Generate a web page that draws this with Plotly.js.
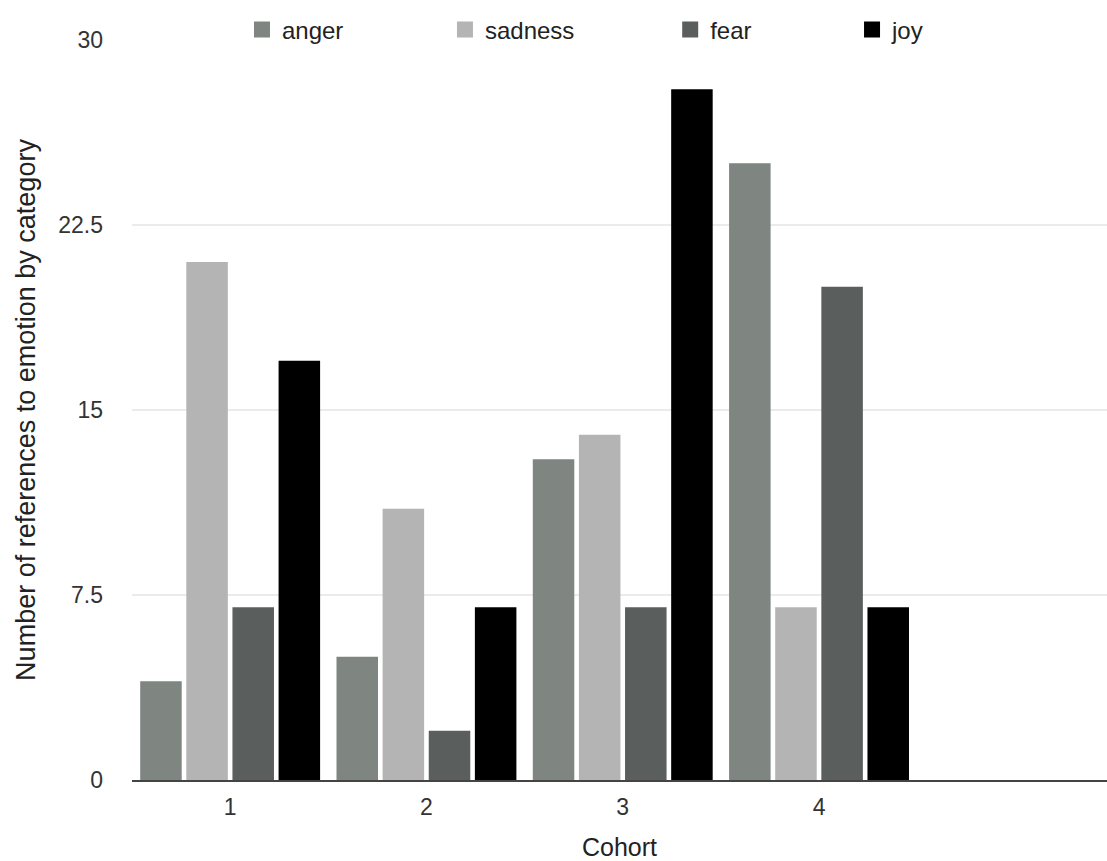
<!DOCTYPE html>
<html><head><meta charset="utf-8">
<script src="https://cdn.plot.ly/plotly-3.0.1.min.js"></script>
<style>html,body{margin:0;padding:0;background:#fff}#chart{width:1107px;height:861px}</style>
</head><body><div id="chart"></div>
<script>
const cohorts = [1, 2, 3, 4];
const seriesNames = ['anger', 'sadness', 'fear', 'joy'];
const anger = [4, 5, 13, 25];
const sadness = [21, 11, 14, 7];
const fear = [7, 2, 7, 20];
const joy = [17, 7, 28, 7];
const yTicks = [0, 7.5, 15, 22.5, 30];
const yTickText = ['0', '7.5', '15', '22.5', '30'];

const values = [anger, sadness, fear, joy];
const colors = ['#7f8581', '#b4b4b4', '#5a5e5c', '#000000'];
const legendNames = ['legend', 'legend2', 'legend3', 'legend4'];
const legendX = [0.1128, 0.321, 0.552, 0.7385];

const barTraces = seriesNames.map((n, i) => ({
  type: 'bar', name: n, x: cohorts, y: values[i],
  marker: {color: colors[i], line: {width: 0}},
  showlegend: false, hoverinfo: 'x+y+name'
}));
// legend-only entries (square swatches like the reference)
const legendTraces = seriesNames.map((n, i) => ({
  type: 'scatter', mode: 'markers', name: n, x: [null], y: [null],
  marker: {color: colors[i], symbol: 'square', size: 18},
  legend: legendNames[i], showlegend: true, hoverinfo: 'skip'
}));

const layout = {
  width: 1107, height: 861,
  margin: {l: 132, r: 0, t: 40, b: 81},
  paper_bgcolor: '#ffffff', plot_bgcolor: '#ffffff',
  font: {family: 'Liberation Sans, Arial, sans-serif', color: '#333'},
  barmode: 'group', bargap: 0.06, bargroupgap: 0.1,
  showlegend: true,
  xaxis: {
    range: [0.5, 5.467], tickvals: cohorts, ticktext: cohorts.map(String),
    showgrid: false, zeroline: false, showline: true, linecolor: '#444', linewidth: 2,
    ticks: '', ticklabelstandoff: 5,
    tickfont: {size: 23, color: '#333'},
    title: {text: 'Cohort', font: {size: 25, color: '#222'}, standoff: 25}
  },
  yaxis: {
    range: [0, 30], tickvals: yTicks, ticktext: yTickText,
    showgrid: true, gridcolor: '#ebebeb', gridwidth: 1.5, zeroline: false,
    showline: false, ticks: '', ticklabelstandoff: 28,
    tickfont: {size: 23, color: '#333'},
    title: {text: 'Number of references to emotion by category', font: {size: 27, color: '#222'}, standoff: 14}
  }
};
legendNames.forEach((ln, i) => {
  layout[ln] = {x: legendX[i], xanchor: 'left', y: 1.0135, yanchor: 'middle',
    orientation: 'h', bgcolor: 'rgba(0,0,0,0)', borderwidth: 0, itemsizing: 'trace',
    font: {size: 24, color: '#222'}};
});

Plotly.newPlot('chart', barTraces.concat(legendTraces), layout, {displayModeBar: false, staticPlot: true});
</script></body></html>
